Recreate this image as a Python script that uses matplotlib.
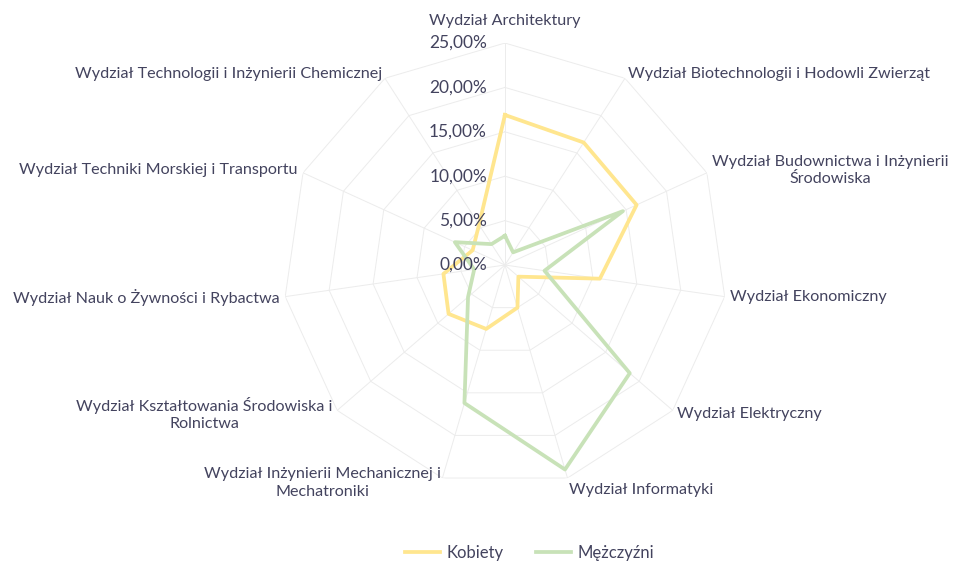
import numpy as np
import matplotlib
matplotlib.use("Agg")
import matplotlib.pyplot as plt
from matplotlib.lines import Line2D

plt.rcParams['font.family'] = ['Lato', 'DejaVu Sans']

# Dane
wydzialy = [
    "Wydział Architektury",
    "Wydział Biotechnologii i Hodowli Zwierząt",
    "Wydział Budownictwa i Inżynierii\nŚrodowiska",
    "Wydział Ekonomiczny",
    "Wydział Elektryczny",
    "Wydział Informatyki",
    "Wydział Inżynierii Mechanicznej i\nMechatroniki",
    "Wydział Kształtowania Środowiska i\nRolnictwa",
    "Wydział Nauk o Żywności i Rybactwa",
    "Wydział Techniki Morskiej i Transportu",
    "Wydział Technologii i Inżynierii Chemicznej",
]
kobiety = [16.9, 16.4, 16.3, 10.8, 2.0, 5.0, 7.5, 8.4, 7.0, 4.0, 5.4]
mezczyzni = [3.3, 1.7, 14.6, 4.5, 18.6, 24.0, 16.2, 5.5, 3.5, 6.2, 2.8]
r_ticks = [0, 5, 10, 15, 20, 25]
r_labels = ["0,00%", "5,00%", "10,00%", "15,00%", "20,00%", "25,00%"]

txt_color = '#43435e'
grid_color = '#ececec'
c_kob = '#ffe68f'
c_mez = '#c8e2b8'

n = len(wydzialy)
theta = np.arange(n) * 2 * np.pi / n
theta_c = np.append(theta, theta[0])

fig = plt.figure(figsize=(9.54, 5.64), dpi=100)
ax = fig.add_axes([0.2966, 0.1365, 0.4654, 0.7872], projection='polar')
ax.set_theta_zero_location('N')
ax.set_theta_direction(-1)
ax.set_ylim(0, 25)
ax.grid(False)
ax.set_xticks([])
ax.set_yticks([])
ax.spines['polar'].set_visible(False)

# siatka wielokatna
for r in r_ticks[1:]:
    ax.plot(theta_c, [r] * (n + 1), color=grid_color, lw=0.7, zorder=1)
for t in theta:
    ax.plot([t, t], [0, 25], color=grid_color, lw=0.7, zorder=1)

ax.plot(theta_c, kobiety + kobiety[:1], color=c_kob, lw=2.7, zorder=3)
ax.plot(theta_c, mezczyzni + mezczyzni[:1], color=c_mez, lw=2.7, zorder=3)

# etykiety osi wartosci
for r, lab in zip(r_ticks, r_labels):
    ax.annotate(lab, xy=(0, r), xytext=(-13, 0), textcoords='offset points',
                ha='right', va='center', fontsize=12.5, color=txt_color, zorder=4)

# etykiety kategorii
for t, lab in zip(theta, wydzialy):
    s, c = np.sin(t), np.cos(t)
    if abs(s) < 0.1:
        ha, va, off = 'center', 'bottom', 11
    else:
        ha = 'left' if s > 0 else 'right'
        va = 'top' if (c < -0.9 and '\n' not in lab) else 'center'
        off = 4
    ax.annotate(lab, xy=(t, 25), xytext=(off * s, off * c), textcoords='offset points',
                ha=ha, va=va, fontsize=11.6, color=txt_color, linespacing=1.35,
                multialignment='center', annotation_clip=False)

handles = [Line2D([], [], color=c_kob, lw=2.7), Line2D([], [], color=c_mez, lw=2.7)]
fig.legend(handles, ["Kobiety", "Mężczyźni"], loc='center', bbox_to_anchor=(0.555, 0.02),
           ncol=2, frameon=False, fontsize=12, labelcolor=txt_color,
           handlelength=2.1, columnspacing=1.9, handletextpad=0.4)

fig.savefig("out.png", dpi=100, facecolor='white')
